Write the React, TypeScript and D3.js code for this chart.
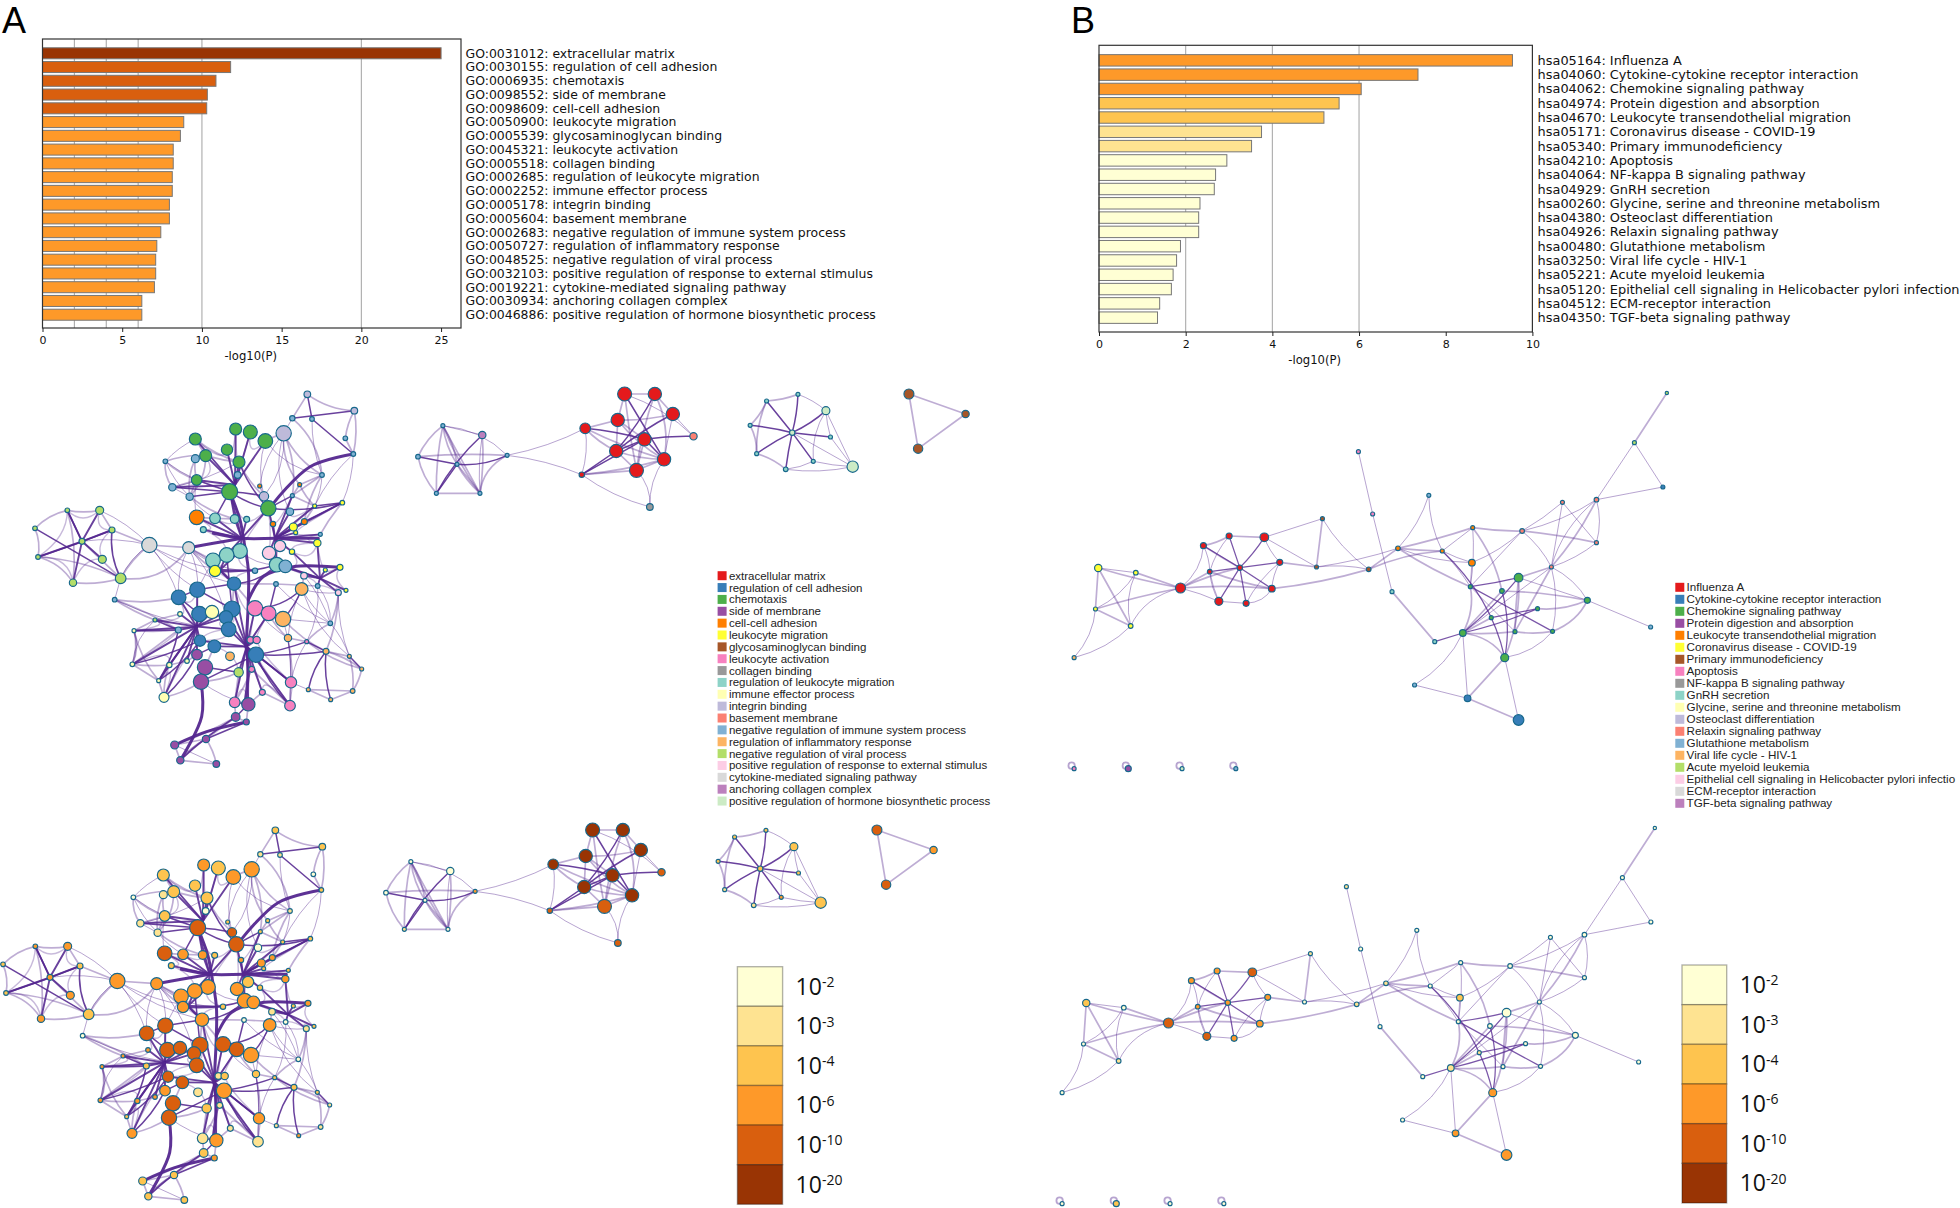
import React, { useEffect, useRef } from 'react'
import * as d3 from 'd3'

// enrichment palette, light to dark (same for bars, node p-values and the colour keys)
const pColors = ['#ffffd4', '#fee391', '#fec44f', '#fe9929', '#d95f0e', '#993404']
const pExponents = ['-2', '-3', '-4', '-6', '-10', '-20']
// cluster palette
const catColors = ['#e41a1c', '#377eb8', '#4daf4a', '#984ea3', '#ff7f00', '#ffff33', '#a65628', '#f781bf', '#999999', '#8dd3c7',
    '#ffffb3', '#bebada', '#fb8072', '#80b1d3', '#fdb462', '#b3de69', '#fccde5', '#d9d9d9', '#bc80bd', '#ccebc5']

const termsA = ['GO:0031012: extracellular matrix', 'GO:0030155: regulation of cell adhesion', 'GO:0006935: chemotaxis', 'GO:0098552: side of membrane',
    'GO:0098609: cell-cell adhesion', 'GO:0050900: leukocyte migration', 'GO:0005539: glycosaminoglycan binding', 'GO:0045321: leukocyte activation',
    'GO:0005518: collagen binding', 'GO:0002685: regulation of leukocyte migration', 'GO:0002252: immune effector process', 'GO:0005178: integrin binding',
    'GO:0005604: basement membrane', 'GO:0002683: negative regulation of immune system process', 'GO:0050727: regulation of inflammatory response',
    'GO:0048525: negative regulation of viral process', 'GO:0032103: positive regulation of response to external stimulus',
    'GO:0019221: cytokine-mediated signaling pathway', 'GO:0030934: anchoring collagen complex', 'GO:0046886: positive regulation of hormone biosynthetic process']
const valuesA = [25.0, 11.8, 10.88, 10.34, 10.3, 8.86, 8.65, 8.2, 8.2, 8.14, 8.14, 7.96, 7.96, 7.42, 7.17, 7.1, 7.1, 7.02, 6.23, 6.23]

const termsB = ['hsa05164: Influenza A', 'hsa04060: Cytokine-cytokine receptor interaction', 'hsa04062: Chemokine signaling pathway', 'hsa04974: Protein digestion and absorption',
    'hsa04670: Leukocyte transendothelial migration', 'hsa05171: Coronavirus disease - COVID-19', 'hsa05340: Primary immunodeficiency', 'hsa04210: Apoptosis',
    'hsa04064: NF-kappa B signaling pathway', 'hsa04929: GnRH secretion', 'hsa00260: Glycine, serine and threonine metabolism', 'hsa04380: Osteoclast differentiation',
    'hsa04926: Relaxin signaling pathway', 'hsa00480: Glutathione metabolism', 'hsa03250: Viral life cycle - HIV-1', 'hsa05221: Acute myeloid leukemia',
    'hsa05120: Epithelial cell signaling in Helicobacter pylori infection', 'hsa04512: ECM-receptor interaction', 'hsa04350: TGF-beta signaling pathway']
const valuesB = [9.54, 7.36, 6.05, 5.54, 5.19, 3.75, 3.52, 2.95, 2.69, 2.66, 2.33, 2.3, 2.3, 1.88, 1.79, 1.71, 1.67, 1.4, 1.35]

const legendA = ['extracellular matrix', 'regulation of cell adhesion', 'chemotaxis', 'side of membrane', 'cell-cell adhesion', 'leukocyte migration', 'glycosaminoglycan binding',
    'leukocyte activation', 'collagen binding', 'regulation of leukocyte migration', 'immune effector process', 'integrin binding', 'basement membrane',
    'negative regulation of immune system process', 'regulation of inflammatory response', 'negative regulation of viral process',
    'positive regulation of response to external stimulus', 'cytokine-mediated signaling pathway', 'anchoring collagen complex', 'positive regulation of hormone biosynthetic process']
const legendB = ['Influenza A', 'Cytokine-cytokine receptor interaction', 'Chemokine signaling pathway', 'Protein digestion and absorption', 'Leukocyte transendothelial migration',
    'Coronavirus disease - COVID-19', 'Primary immunodeficiency', 'Apoptosis', 'NF-kappa B signaling pathway', 'GnRH secretion', 'Glycine, serine and threonine metabolism',
    'Osteoclast differentiation', 'Relaxin signaling pathway', 'Glutathione metabolism', 'Viral life cycle - HIV-1', 'Acute myeloid leukemia',
    'Epithelial cell signaling in Helicobacter pylori infectio', 'ECM-receptor interaction', 'TGF-beta signaling pathway']

// nodes: [x, y, r, cluster, p level] in layout units
const mainNodesA = [
    [922, 73, 10, 11, 2], [1063, 122, 10, 11, 2], [877, 145, 8, 13, 1], [936, 147, 7, 13, 1], [1036, 205, 7, 13, 0], [1060, 252, 7, 13, 2], [966, 315, 7, 13, 1], [851, 190, 23, 11, 3],
    [707, 177, 18, 2, 3], [751, 186, 21, 2, 2], [796, 213, 22, 2, 3], [586, 207, 18, 2, 2], [681, 239, 17, 2, 2], [617, 257, 18, 2, 2], [717, 276, 18, 2, 2], [590, 330, 16, 2, 2], [689, 365, 24, 2, 4],
    [586, 266, 12, 13, 1], [496, 274, 7, 13, 0], [713, 315, 10, 13, 0], [517, 352, 11, 13, 1], [569, 380, 11, 13, 1],
    [792, 379, 14, 11, 4], [779, 348, 6, 4, 2], [899, 344, 6, 4, 2], [877, 377, 6, 13, 2], [805, 415, 23, 2, 4], [590, 442, 22, 4, 4], [645, 445, 16, 9, 3], [704, 447, 13, 9, 3], [740, 448, 9, 9, 2], [610, 479, 9, 9, 2],
    [870, 425, 11, 13, 0], [944, 408, 6, 5, 2], [1027, 398, 7, 5, 2], [880, 471, 12, 5, 3], [913, 455, 9, 4, 3], [819, 462, 8, 4, 3], [887, 488, 6, 5, 2], [961, 493, 6, 13, 2], [952, 519, 11, 5, 3], [876, 545, 8, 5, 2],
    [840, 528, 17, 16, 2], [807, 549, 20, 16, 3], [720, 543, 22, 9, 3], [680, 555, 22, 9, 3], [639, 571, 22, 9, 3], [830, 584, 22, 9, 3], [856, 589, 19, 13, 3], [645, 603, 17, 5, 3], [765, 602, 8, 13, 2],
    [912, 617, 10, 16, 1], [976, 600, 6, 5, 2], [1020, 592, 9, 5, 3], [828, 642, 7, 13, 0], [953, 648, 7, 13, 0], [905, 657, 19, 14, 3], [1015, 668, 9, 16, 1], [1038, 661, 6, 5, 2],
    [448, 525, 23, 17, 3], [566, 533, 18, 17, 3],
    [202, 421, 7, 15, 3], [299, 421, 12, 15, 3], [105, 475, 7, 15, 2], [336, 480, 9, 15, 2], [246, 514, 9, 15, 3], [114, 561, 7, 15, 2], [307, 568, 12, 15, 3], [219, 638, 11, 15, 3], [362, 625, 16, 15, 2], [344, 689, 7, 13, 0],
    [702, 641, 20, 1, 3], [592, 659, 23, 1, 4], [536, 682, 22, 1, 4], [598, 732, 23, 1, 4], [636, 726, 20, 10, 4], [696, 717, 24, 1, 4], [678, 742, 20, 1, 4], [686, 778, 22, 1, 4], [765, 715, 23, 7, 4], [806, 730, 22, 7, 4], [849, 747, 23, 14, 3],
    [991, 760, 7, 13, 0], [540, 732, 7, 10, 3], [465, 750, 6, 15, 3], [535, 780, 9, 13, 2], [402, 782, 6, 10, 3], [864, 804, 11, 14, 2], [751, 810, 10, 7, 1], [770, 810, 11, 7, 2], [920, 815, 6, 7, 2],
    [600, 812, 17, 1, 4], [643, 829, 19, 1, 4], [768, 854, 23, 1, 3], [978, 844, 9, 14, 2], [1048, 859, 6, 14, 2], [1085, 897, 6, 14, 1], [591, 854, 16, 3, 3], [690, 859, 13, 14, 1],
    [397, 883, 7, 10, 3], [508, 885, 8, 10, 3], [561, 873, 7, 10, 3], [615, 892, 23, 3, 4], [603, 935, 23, 3, 4], [716, 907, 14, 15, 2], [755, 898, 9, 7, 1], [476, 932, 6, 10, 2], [492, 982, 15, 10, 3],
    [873, 937, 17, 7, 3], [925, 959, 6, 14, 1], [1058, 963, 7, 14, 1], [992, 989, 6, 14, 3], [787, 967, 9, 7, 1], [704, 997, 16, 7, 1], [745, 1003, 20, 3, 3], [870, 1007, 16, 7, 1],
    [707, 1041, 13, 3, 2], [739, 1056, 9, 3, 3], [618, 1107, 11, 3, 2], [524, 1125, 12, 3, 2], [541, 1171, 11, 3, 2], [649, 1182, 10, 3, 2],
]
// spokes that meet at a hub point: [hub x, hub y, ...node ids]
const mainHubsA = [
    [725, 505, 16, 27, 28, 29, 30, 31, 44, 45, 26],
    [825, 505, 25, 26, 32, 33, 34, 35, 36, 37, 38, 39, 40, 41, 42, 43, 47],
    [590, 770, 72, 73, 74, 75, 76, 77, 78, 83, 84, 85, 86, 91, 97, 99, 100, 101, 106, 107],
    [740, 830, 76, 77, 78, 79, 80, 88, 89, 92, 93, 91, 105, 104, 108, 112, 113, 114, 115, 71],
    [705, 345, 8, 9, 10, 11, 12, 13, 14, 19, 15, 20],
    [960, 625, 51, 52, 53, 55, 57, 58, 48, 47, 40, 41],
    [660, 600, 44, 45, 46, 49, 50, 71],
    [246, 514, 61, 62, 64, 66, 68, 67],
]
// thick trunks between hubs, as point lists
const mainTrunksA = [
    [[640, 490], [725, 505], [830, 505], [955, 505]],
    [[730, 505], [745, 600], [745, 690], [738, 830]],
    [[738, 830], [745, 900], [735, 1000]],
    [[745, 690], [790, 620], [880, 590], [1020, 592]],
    [[566, 533], [640, 520], [725, 505]],
    [[603, 935], [605, 1040], [541, 1171]],
    [[739, 1056], [620, 1085], [524, 1125]],
    [[689, 365], [720, 450], [730, 505]],
    [[1060, 252], [930, 290], [820, 400]],
]
// edges: [a, b, kind, bend]; kind 0 thin light, 1 wide light, 2 dark
const mainEdgesA = [
    [3, 5, 2, 0], [1, 2, 2, 0], [0, 3, 2, 0], [0, 2, 1, 0], [0, 1, 1, 0.15], [1, 4, 1, 0.1], [1, 5, 1, -0.1], [4, 5, 1, 0], [2, 6, 1, -0.2], [3, 6, 0, 0.1], [6, 25, 1, 0], [7, 22, 0, -0.2], [7, 23, 0, 0.15],
    [2, 7, 0, 0], [7, 24, 1, 0.2], [10, 22, 0, 0.15], [14, 26, 2, 0.1], [16, 26, 2, 0.1], [16, 22, 2, -0.05], [18, 20, 1, 0.2], [18, 11, 0, -0.1], [18, 21, 0, 0.1], [11, 13, 1, 0], [13, 21, 1, -0.2], [17, 13, 1, 0], [18, 16, 0, 0.1], [20, 16, 2, 0], [21, 16, 2, 0], [15, 16, 2, 0], [17, 15, 1, 0.1], [20, 21, 0, 0], [19, 16, 2, 0],
    [25, 33, 1, 0], [25, 26, 2, 0], [26, 34, 2, 0.1], [33, 34, 2, 0], [34, 36, 2, 0], [33, 36, 1, 0], [24, 25, 1, 0], [28, 16, 2, 0], [29, 16, 2, 0],
    [60, 59, 1, 0], [59, 62, 0, 0.1], [59, 64, 1, 0], [59, 65, 0, 0.1], [59, 69, 0, 0.15], [69, 60, 1, 0.3], [69, 66, 1, 0.1], [68, 69, 1, 0.1], [61, 62, 1, 0.1], [61, 63, 1, 0.15], [63, 66, 1, -0.15], [66, 68, 1, -0.2], [63, 69, 2, 0], [66, 64, 2, 0.02], [62, 64, 1, 0], [64, 69, 2, 0.15], [61, 65, 2, 0], [65, 69, 1, 0], [61, 68, 1, -0.1],
    [69, 70, 0, 0], [70, 84, 1, 0.05], [70, 78, 0, 0.1], [59, 71, 0, 0.1], [60, 73, 0, 0.15], [60, 50, 0, 0.2], [60, 72, 0, -0.15], [86, 84, 1, 0], [99, 86, 1, 0.2], [99, 106, 1, 0], [84, 85, 2, 0], [85, 86, 2, 0], [99, 91, 2, 0.05], [106, 91, 2, 0.1], [106, 85, 2, 0.1], [99, 85, 1, 0], [107, 97, 2, 0.1], [107, 106, 1, 0],
    [72, 73, 2, 0], [72, 76, 2, 0], [72, 71, 2, 0], [73, 74, 2, 0], [71, 76, 1, 0], [79, 71, 1, 0], [79, 80, 1, 0], [80, 81, 1, 0], [102, 92, 1, 0], [103, 114, 0, 0.1], [103, 93, 2, 0], [102, 104, 2, 0], [97, 92, 2, 0],
    [94, 95, 1, 0], [94, 96, 1, -0.1], [95, 96, 2, 0], [94, 109, 2, 0.12], [109, 110, 1, 0], [110, 111, 1, 0], [111, 109, 1, 0], [96, 110, 1, -0.1], [95, 110, 1, -0.1], [111, 94, 2, -0.1], [82, 57, 1, 0.1], [82, 90, 1, 0.1], [82, 95, 0, -0.1], [81, 82, 0, 0], [90, 96, 1, 0.1], [90, 94, 2, 0], [93, 90, 2, 0.05], [93, 94, 2, 0.05], [87, 90, 1, 0], [108, 87, 0, 0.05], [115, 87, 0, 0.05], [108, 109, 0, 0], [87, 56, 0, -0.1], [81, 56, 2, 0.1], [56, 51, 1, 0], [56, 57, 0, 0.1], [82, 55, 0, 0.2], [79, 56, 2, 0.2], [54, 80, 2, 0], [54, 55, 1, 0],
    [116, 117, 1, 0], [114, 116, 2, 0], [113, 116, 1, 0], [116, 120, 2, 0.05], [119, 118, 1, 0], [119, 120, 1, 0], [120, 121, 1, 0], [118, 121, 1, -0.1], [119, 121, 0, 0], [117, 118, 2, 0], [105, 115, 1, 0], [113, 114, 2, 0], [93, 108, 2, 0], [93, 115, 2, 0.1], [46, 71, 2, 0.1], [46, 72, 0, 0], [71, 47, 2, 0.2], [44, 47, 0, 0.2], [49, 47, 2, 0.1], [45, 76, 2, 0], [54, 71, 1, 0],
    // light filler between the dense parts
    [56, 82, 0, 0.1], [54, 82, 0, 0.1], [51, 82, 0, -0.1], [80, 87, 1, 0.1], [79, 87, 0, 0.1], [56, 95, 0, 0.15], [57, 94, 1, -0.1], [81, 94, 1, 0.1], [90, 108, 0, 0.1], [87, 115, 0, -0.1], [55, 90, 0, -0.15], [57, 95, 0, 0.1], [81, 108, 0, -0.08],
    [7, 10, 1, 0.05], [7, 6, 1, 0.15], [6, 24, 1, 0], [6, 33, 0, -0.1], [24, 33, 1, 0.1], [7, 25, 1, -0.15], [5, 33, 0, 0.1], [5, 34, 0, -0.1], [34, 39, 1, 0.05], [6, 36, 1, 0.1], [14, 22, 1, 0.1], [22, 23, 1, 0], [10, 6, 0, 0.2], [7, 32, 0, 0.2],
    [18, 15, 1, 0.1], [18, 13, 1, -0.1], [17, 21, 1, 0.15], [20, 15, 1, 0], [21, 15, 1, 0], [21, 28, 0, 0.1], [15, 27, 0, 0.1], [27, 28, 1, 0], [28, 29, 1, 0], [20, 14, 0, 0.08], [13, 14, 1, 0.05], [11, 14, 1, 0.1], [21, 29, 1, 0.1],
    [59, 72, 0, 0.1], [59, 73, 0, -0.1], [60, 71, 1, -0.1], [60, 49, 1, 0.05], [60, 46, 1, 0], [70, 73, 1, 0.1], [70, 85, 1, -0.05], [59, 50, 0, 0.15], [60, 78, 0, -0.15], [69, 59, 1, -0.1],
    [86, 99, 1, -0.15], [86, 85, 1, 0.05], [84, 99, 0, 0.2], [83, 84, 1, 0], [99, 100, 1, 0.05], [100, 106, 1, 0], [100, 101, 1, 0], [101, 97, 1, 0], [107, 100, 1, -0.1], [86, 106, 1, 0.12],
    [108, 115, 1, 0.05], [114, 112, 1, 0], [112, 115, 1, 0], [104, 113, 1, 0], [103, 104, 1, 0.1], [113, 105, 1, 0.05], [107, 103, 1, 0.1], [114, 117, 1, 0], [118, 120, 1, 0.1], [118, 116, 1, 0], [119, 116, 1, 0.05], [120, 118, 1, -0.1],
]

const sideNodesA = [
    [112, 167, 6, 13, 0], [215, 195, 11, 18, 0], [47, 260, 7, 13, 0], [149, 283, 6, 13, 0], [280, 256, 6, 13, 3], [95, 370, 6, 13, 1], [209, 370, 6, 13, 0],
    [587, 72, 21, 0, 5], [666, 72, 20, 0, 5], [713, 132, 20, 0, 5], [569, 150, 20, 0, 5], [484, 175, 16, 0, 5], [639, 208, 20, 0, 5], [565, 243, 20, 0, 5], [690, 268, 20, 0, 5], [618, 301, 21, 0, 4], [767, 199, 11, 12, 4], [475, 314, 8, 0, 4], [653, 411, 10, 8, 4],
    [958, 93, 6, 9, 2], [1040, 73, 6, 9, 2], [1113, 122, 12, 19, 2], [915, 166, 6, 9, 2], [1025, 188, 8, 19, 2], [1125, 201, 6, 9, 2], [932, 251, 6, 9, 1], [1080, 274, 6, 9, 3], [1008, 298, 7, 9, 1], [1183, 290, 17, 19, 2],
    [1330, 72, 15, 6, 4], [1478, 132, 11, 6, 3], [1354, 236, 14, 6, 4],
]
const sideEdgesA = [
    [2, 3, 2, 0], [3, 4, 2, 0.15], [3, 5, 2, 0], [3, 6, 1, 0], [1, 5, 2, 0.08], [0, 6, 1, 0], [0, 3, 1, 0.1], [0, 5, 1, 0.05], [0, 1, 0, 0], [1, 6, 0, 0.05], [2, 0, 1, -0.12], [2, 5, 1, 0.12], [5, 6, 1, 0], [2, 4, 1, -0.04], [6, 4, 1, -0.25], [0, 4, 0, -0.2], [0, 3, 1, -0.1], [3, 6, 1, 0.08], [0, 6, 1, 0.06], [1, 6, 1, -0.05],
    [4, 11, 0, 0.08], [4, 17, 0, -0.08],
    [7, 14, 2, 0], [8, 13, 2, -0.05], [9, 10, 1, -0.08], [11, 12, 2, -0.05], [7, 15, 1, 0.02], [16, 12, 2, 0.05], [17, 12, 2, 0], [17, 13, 2, 0], [12, 14, 2, 0], [10, 12, 1, 0], [13, 12, 2, 0], [9, 13, 2, 0.05],
    [7, 8, 1, 0], [8, 9, 1, 0], [7, 10, 1, 0], [10, 11, 1, 0], [11, 17, 0, -0.1], [10, 13, 1, 0], [13, 15, 1, 0], [15, 14, 1, 0], [14, 9, 0, 0], [9, 16, 0, 0], [15, 18, 0, -0.2], [14, 18, 0, 0.15], [17, 15, 1, 0], [11, 14, 1, 0.05], [10, 14, 1, 0.1], [13, 14, 1, 0.1], [17, 14, 1, 0.05], [7, 16, 0, -0.12], [8, 14, 1, -0.15], [12, 15, 1, 0], [17, 18, 0, 0.1], [11, 13, 1, 0.1], [8, 15, 1, 0.05],
    [23, 19, 2, 0], [23, 20, 2, 0.05], [23, 21, 2, 0.08], [23, 22, 2, 0.05], [23, 24, 2, 0], [23, 25, 2, 0.05], [23, 26, 2, 0], [23, 27, 2, 0.02],
    [19, 20, 1, 0.08], [19, 22, 1, -0.1], [22, 25, 1, -0.12], [25, 27, 1, -0.12], [27, 26, 0, 0.1], [27, 28, 0, 0.1], [26, 28, 0, 0.05], [23, 28, 0, 0], [24, 28, 0, 0], [20, 21, 0, -0.1], [21, 24, 0, 0.05], [21, 28, 0, 0], [21, 26, 0, 0.15], [19, 25, 1, 0.1],
    [29, 30, 1, 0], [30, 31, 1, 0], [29, 31, 1, 0],
]

const nodesB = [
    [1560, 39, 5, 15, 0], [1478, 188, 6, 15, 0], [1550, 321, 6, 1, 0], [1382, 359, 7, 12, 0], [1296, 367, 6, 12, 0], [1382, 488, 6, 12, 0], [1194, 453, 7, 12, 0], [1069, 443, 6, 4, 0], [958, 346, 6, 13, 0],
    [880, 505, 7, 4, 1], [992, 513, 6, 4, 0], [1067, 548, 10, 4, 2], [1268, 561, 6, 12, 0], [1185, 593, 13, 2, 0], [1063, 620, 6, 2, 0], [1143, 633, 7, 2, 0], [1359, 661, 9, 2, 0], [1233, 686, 6, 2, 0], [1116, 713, 6, 2, 1], [1044, 759, 10, 2, 1], [1176, 755, 6, 2, 0], [1271, 754, 6, 2, 0], [1150, 833, 12, 2, 3],
    [1519, 741, 6, 13, 0], [973, 785, 6, 9, 0], [922, 915, 6, 13, 0], [1056, 955, 10, 1, 3], [1185, 1020, 16, 1, 3], [865, 635, 6, 9, 0], [816, 402, 6, 7, 0], [780, 215, 6, 7, 1], [689, 416, 6, 6, 1], [674, 561, 6, 6, 0], [806, 568, 7, 6, 1],
    [542, 472, 13, 0, 4], [453, 468, 9, 0, 3], [388, 497, 9, 0, 3], [581, 547, 9, 0, 3], [480, 563, 8, 0, 3], [404, 575, 7, 0, 3], [330, 624, 15, 0, 4], [561, 626, 10, 0, 3], [427, 664, 12, 0, 4], [496, 670, 9, 0, 3],
    [122, 564, 11, 5, 2], [217, 578, 7, 5, 0], [115, 687, 6, 5, 0], [204, 738, 7, 5, 1], [61, 833, 6, 14, 0],
    [61, 1166, 6, 7, 0], [198, 1166, 9, 3, 2], [334, 1166, 6, 19, 0], [470, 1166, 6, 13, 0],
]
const loopIdsB = [49, 50, 51, 52]
const edgesB = [
    [38, 34, 2, 0.05], [38, 35, 2, 0], [38, 36, 2, 0], [38, 37, 2, 0], [38, 39, 2, 0], [38, 41, 2, 0], [38, 42, 2, 0], [38, 43, 2, 0],
    [36, 35, 1, 0.1], [35, 34, 1, 0], [34, 37, 0, 0.1], [37, 41, 0, 0.1], [41, 43, 0, -0.3], [43, 42, 0, 0], [42, 39, 0, -0.05], [39, 36, 0, 0.1], [36, 40, 0, -0.2], [39, 40, 1, 0], [38, 40, 1, 0.05], [41, 40, 1, 0.05], [42, 40, 0, 0.05], [35, 39, 0, 0.1], [36, 38, 1, 0.02], [39, 41, 1, 0.05], [39, 42, 0, 0.1], [37, 43, 0, 0.1],
    [44, 45, 0, 0], [44, 46, 1, 0], [44, 47, 1, 0], [45, 46, 0, -0.15], [45, 47, 0, 0.15], [46, 47, 1, 0], [44, 40, 1, 0.03], [45, 40, 1, 0], [46, 40, 1, -0.03], [47, 40, 0, -0.25], [46, 48, 0, -0.15], [47, 48, 0, -0.15],
    [34, 31, 0, 0], [34, 32, 0, 0], [31, 32, 1, 0], [31, 33, 0, 0.1], [37, 32, 1, 0], [32, 33, 0, -0.1], [41, 33, 1, 0.05], [33, 9, 1, 0], [33, 10, 1, -0.1], [32, 9, 0, 0.05],
    [30, 29, 0, 0], [29, 28, 0, 0], [28, 24, 1, 0], [24, 19, 2, 0], [9, 8, 0, 0.1], [8, 10, 0, 0.1], [9, 7, 1, 0.03], [9, 10, 1, 0.02], [9, 14, 1, 0.05], [9, 11, 0, 0.1], [10, 7, 0, 0], [10, 11, 0, 0.05], [7, 6, 1, 0.05], [10, 14, 0, -0.05], [14, 7, 0, 0.05], [14, 11, 0, 0],
    [10, 22, 2, -0.14], [7, 15, 1, -0.1], [6, 14, 0, 0], [6, 11, 0, -0.1], [6, 4, 0, 0.05], [6, 3, 0, 0.1], [6, 5, 1, -0.03], [4, 5, 0, 0], [3, 5, 0, -0.12], [3, 1, 0, 0], [1, 0, 1, 0], [1, 2, 0, 0], [3, 2, 0, 0], [3, 12, 0, 0.15], [5, 12, 0, -0.1], [4, 12, 0, 0], [6, 12, 0, -0.1], [12, 3, 1, 0.06],
    [12, 13, 1, 0], [12, 16, 0, -0.15], [12, 20, 1, 0], [12, 19, 0, 0], [13, 14, 2, -0.03], [13, 16, 0, 0], [13, 20, 1, 0.02], [14, 21, 2, 0], [19, 13, 2, 0.05], [19, 17, 2, 0.05], [18, 17, 2, 0], [15, 22, 2, -0.1], [13, 22, 1, -0.1], [19, 20, 1, 0.05], [19, 22, 1, -0.25], [20, 21, 1, 0.1], [21, 16, 1, 0.2], [17, 16, 1, 0.15], [15, 16, 1, -0.05], [14, 19, 1, -0.15], [14, 20, 0, 0], [18, 19, 1, 0], [15, 19, 1, 0], [22, 21, 0, 0.2], [12, 21, 0, -0.1], [16, 23, 0, 0],
    [19, 25, 0, -0.15], [19, 26, 0, 0], [22, 26, 1, 0], [22, 27, 0, 0], [26, 27, 1, 0], [25, 26, 0, 0],
]

// panels: where layout units land on the page, and where the p-value copy sits
const panelMainA = { nodes: mainNodesA, edges: mainEdgesA, hubs: mainHubsA, trunks: mainTrunksA, loops: [], xd: [0, 1200], xr: [0, 400], yd: [0, 1260], yr: [370, 790], dx: -32, dy: 436, darkW: 1.5, darkO: 0.88 }
const panelSideA = { nodes: sideNodesA, edges: sideEdgesA, hubs: [], trunks: [], loops: [], xd: [0, 1568], xr: [400, 1000], yd: [0, 1350], yr: [370, 820], dx: -32, dy: 436, darkW: 1.5, darkO: 0.88 }
const panelB = { nodes: nodesB, edges: edgesB, hubs: [], trunks: [], loops: loopIdsB, xd: [0, 1568], xr: [1050, 1670], yd: [0, 1260], yr: [380, 800], dx: -12, dy: 435, darkW: 1.25, darkO: 0.78 }

const SANS = '"DejaVu Sans", sans-serif'
const ARIAL = '"Liberation Sans", sans-serif'
const edgeColor = '#54278f'
const lightStyles = [
    { w: 1, o: 0.42 },
    { w: 1.7, o: 0.38 },
]

const pFromValue = d3.scaleThreshold<number, string>().domain([3, 4, 6, 10, 20]).range(pColors)

const Network = ({ panel, copy }: { panel: any; copy: boolean }) => {
    const offX = copy ? panel.dx : 0
    const offY = copy ? panel.dy : 0
    const x = d3.scaleLinear().domain(panel.xd).range(panel.xr.map((v: number) => v + offX))
    const y = d3.scaleLinear().domain(panel.yd).range(panel.yr.map((v: number) => v + offY))
    const rad = d3.scaleLinear().domain([0, 3]).range([0, 1])
    const line = d3.line<number[]>().x((d) => x(d[0])).y((d) => y(d[1]))
    const smooth = d3.line<number[]>().x((d) => x(d[0])).y((d) => y(d[1])).curve(d3.curveCatmullRom)

    const bent = (a: number, b: number, bend: number) => {
        const p = panel.nodes[a]
        const q = panel.nodes[b]
        const mx = (p[0] + q[0]) / 2 - (q[1] - p[1]) * bend
        const my = (p[1] + q[1]) / 2 + (q[0] - p[0]) * bend
        const path = d3.path()
        path.moveTo(x(p[0]), y(p[1]))
        path.quadraticCurveTo(x(mx), y(my), x(q[0]), y(q[1]))
        return path.toString()
    }

    // the curved outlines around a hub: neighbours by angle, pulled in towards the hub
    const hubRings: string[] = []
    panel.hubs.forEach((h: number[]) => {
        const members = h.slice(2).map((id: number) => panel.nodes[id])
        members.sort((a: number[], b: number[]) => Math.atan2(a[1] - h[1], a[0] - h[0]) - Math.atan2(b[1] - h[1], b[0] - h[0]))
        members.forEach((m: number[], i: number) => {
            const n = members[(i + 1) % members.length]
            if (Math.hypot(m[0] - n[0], m[1] - n[1]) > 260) return
            const path = d3.path()
            path.moveTo(x(m[0]), y(m[1]))
            path.quadraticCurveTo(x((m[0] + n[0] + h[0] * 2) / 4), y((m[1] + n[1] + h[1] * 2) / 4), x(n[0]), y(n[1]))
            hubRings.push(path.toString())
        })
    })

    return (
        <g>
            <g fill="none" stroke={edgeColor} strokeLinecap="round">
                {hubRings.map((d, i) => (
                    <path key={i} d={d} strokeWidth={1.4} strokeOpacity={0.32} />
                ))}
                {panel.edges.filter((e: number[]) => e[2] < 2).map((e: number[], i: number) => (
                    <path key={i} d={bent(e[0], e[1], e[3])} strokeWidth={lightStyles[e[2]].w} strokeOpacity={lightStyles[e[2]].o} />
                ))}
                {panel.loops.map((id: number) => {
                    const n = panel.nodes[id]
                    return <circle key={id} cx={x(n[0]) - 2.5} cy={y(n[1]) - 3} r={3.2} strokeWidth={1.8} strokeOpacity={0.42} />
                })}
                {panel.edges.filter((e: number[]) => e[2] === 2).map((e: number[], i: number) => (
                    <path key={i} d={bent(e[0], e[1], e[3])} strokeWidth={panel.darkW} strokeOpacity={panel.darkO} />
                ))}
                {panel.hubs.map((h: number[], i: number) =>
                    h.slice(2).map((id: number) => {
                        const n = panel.nodes[id]
                        return <path key={i + '-' + id} d={line([[n[0], n[1]], [h[0], h[1]]]) as string} strokeWidth={1.9} strokeOpacity={0.88} />
                    })
                )}
                {panel.trunks.map((t: number[][], i: number) => (
                    <path key={i} d={smooth(t) as string} strokeWidth={3} strokeOpacity={0.95} />
                ))}
            </g>
            <g stroke="#17688c" strokeWidth={1.15}>
                {panel.nodes.map((n: number[], i: number) => (
                    <circle key={i} cx={x(n[0])} cy={y(n[1])} r={rad(n[2])} fill={copy ? pColors[n[4]] : catColors[n[3]]} />
                ))}
            </g>
        </g>
    )
}

interface BarProps {
    terms: string[]
    values: number[]
    frame: { left: number; right: number; top: number; bottom: number }
    maxX: number
    ticks: number[]
    grid: number[]
    bandTop: number
    bandBottom: number
    labelX: number
    fontSize: number
}

const BarPanel: React.FC<BarProps> = ({ terms, values, frame, maxX, ticks, grid, bandTop, bandBottom, labelX, fontSize }) => {
    const axisRef = useRef<SVGGElement | null>(null)
    const x = d3.scaleLinear().domain([0, maxX]).range([frame.left, frame.right])
    const y = d3.scaleBand<string>().domain(terms).range([bandTop, bandBottom]).paddingInner(0.2).paddingOuter(0.1)

    useEffect(() => {
        const g = d3.select(axisRef.current as SVGGElement)
        g.call(d3.axisBottom(x).tickValues(ticks).tickFormat(d3.format('d') as any).tickSize(4).tickPadding(4) as any)
        g.select('.domain').remove()
        g.selectAll('text').attr('font-family', SANS).attr('font-size', 11).attr('fill', '#111')
        g.selectAll('line').attr('stroke', '#222')
    }, [])

    return (
        <g>
            {grid.map((v) => (
                <line key={v} x1={x(v)} x2={x(v)} y1={frame.top} y2={frame.bottom} stroke="#aaaaaa" strokeWidth={1.1} />
            ))}
            {terms.map((t, i) => (
                <g key={t}>
                    <rect x={x(0)} y={y(t)} width={x(values[i]) - x(0)} height={y.bandwidth()} fill={pFromValue(values[i])} stroke="#777" strokeWidth={1} />
                    <text x={labelX} y={(y(t) as number) + y.bandwidth() / 2} dy="0.35em" fontFamily={SANS} fontSize={fontSize} fill="#111">
                        {t}
                    </text>
                </g>
            ))}
            <rect x={frame.left} y={frame.top} width={frame.right - frame.left} height={frame.bottom - frame.top} fill="none" stroke="#333" strokeWidth={1.2} />
            <g ref={axisRef} transform={`translate(0,${frame.bottom})`} />
            <text x={(frame.left + frame.right) / 2 - 1} y={frame.bottom + 32} textAnchor="middle" fontFamily={SANS} fontSize={11.6} fill="#111">
                -log10(P)
            </text>
        </g>
    )
}

const Legend = ({ items, x, y, step, fontSize }: { items: string[]; x: number; y: number; step: number; fontSize: number }) => (
    <g>
        {items.map((t, i) => (
            <g key={t}>
                <rect x={x} y={y + i * step - 4.5} width={9} height={9} fill={catColors[i]} />
                <text x={x + 11.3} y={y + i * step} dy="0.35em" fontFamily={ARIAL} fontSize={fontSize} fill="#222">
                    {t}
                </text>
            </g>
        ))}
    </g>
)

const ColorKey = ({ x, width, top, bottom }: { x: number; width: number; top: number; bottom: number }) => {
    const band = d3.scaleBand<string>().domain(pExponents).range([top, bottom])
    return (
        <g>
            {pExponents.map((e, i) => (
                <g key={e}>
                    <rect x={x} y={band(e)} width={width} height={band.bandwidth()} fill={pColors[i]} stroke="#000" strokeOpacity={0.3} strokeWidth={1.4} />
                    <text x={x + width + 13} y={(band(e) as number) + band.bandwidth() / 2 + 8} fontFamily='"Open Sans", sans-serif' fontSize={23} fill="#111">
                        10
                        <tspan dy={-7.5} fontSize={14}>{e}</tspan>
                    </text>
                </g>
            ))}
        </g>
    )
}

export default function App() {
    return (
        <svg width={1960} height={1208} style={{ position: 'absolute', left: 0, top: 0, background: '#fff' }}>
            <text x={2} y={33} fontFamily={ARIAL} fontSize={36} fill="#000">A</text>
            <text x={1071} y={33} fontFamily={ARIAL} fontSize={36} fill="#000">B</text>

            <BarPanel terms={termsA} values={valuesA} frame={{ left: 42.5, right: 461, top: 39, bottom: 328 }} maxX={26.25} ticks={[0, 5, 10, 15, 20, 25]} grid={[2, 4, 6, 10, 20]}
                bandTop={46.4} bandBottom={321.6} labelX={465.5} fontSize={12.45} />
            <BarPanel terms={termsB} values={valuesB} frame={{ left: 1099, right: 1532.4, top: 45.3, bottom: 332 }} maxX={10} ticks={[0, 2, 4, 6, 8, 10]} grid={[2, 4, 6]}
                bandTop={53.2} bandBottom={324.8} labelX={1537.6} fontSize={12.9} />

            <Network panel={panelMainA} copy={false} />
            <Network panel={panelSideA} copy={false} />
            <Network panel={panelB} copy={false} />
            <Network panel={panelMainA} copy={true} />
            <Network panel={panelSideA} copy={true} />
            <Network panel={panelB} copy={true} />

            <Legend items={legendA} x={717.6} y={575.7} step={11.86} fontSize={11.5} />
            <Legend items={legendB} x={1675.3} y={587.3} step={12} fontSize={11.65} />

            <ColorKey x={737.4} width={45.2} top={966.7} bottom={1204.3} />
            <ColorKey x={1682} width={44.7} top={965} bottom={1203} />
        </svg>
    )
}
